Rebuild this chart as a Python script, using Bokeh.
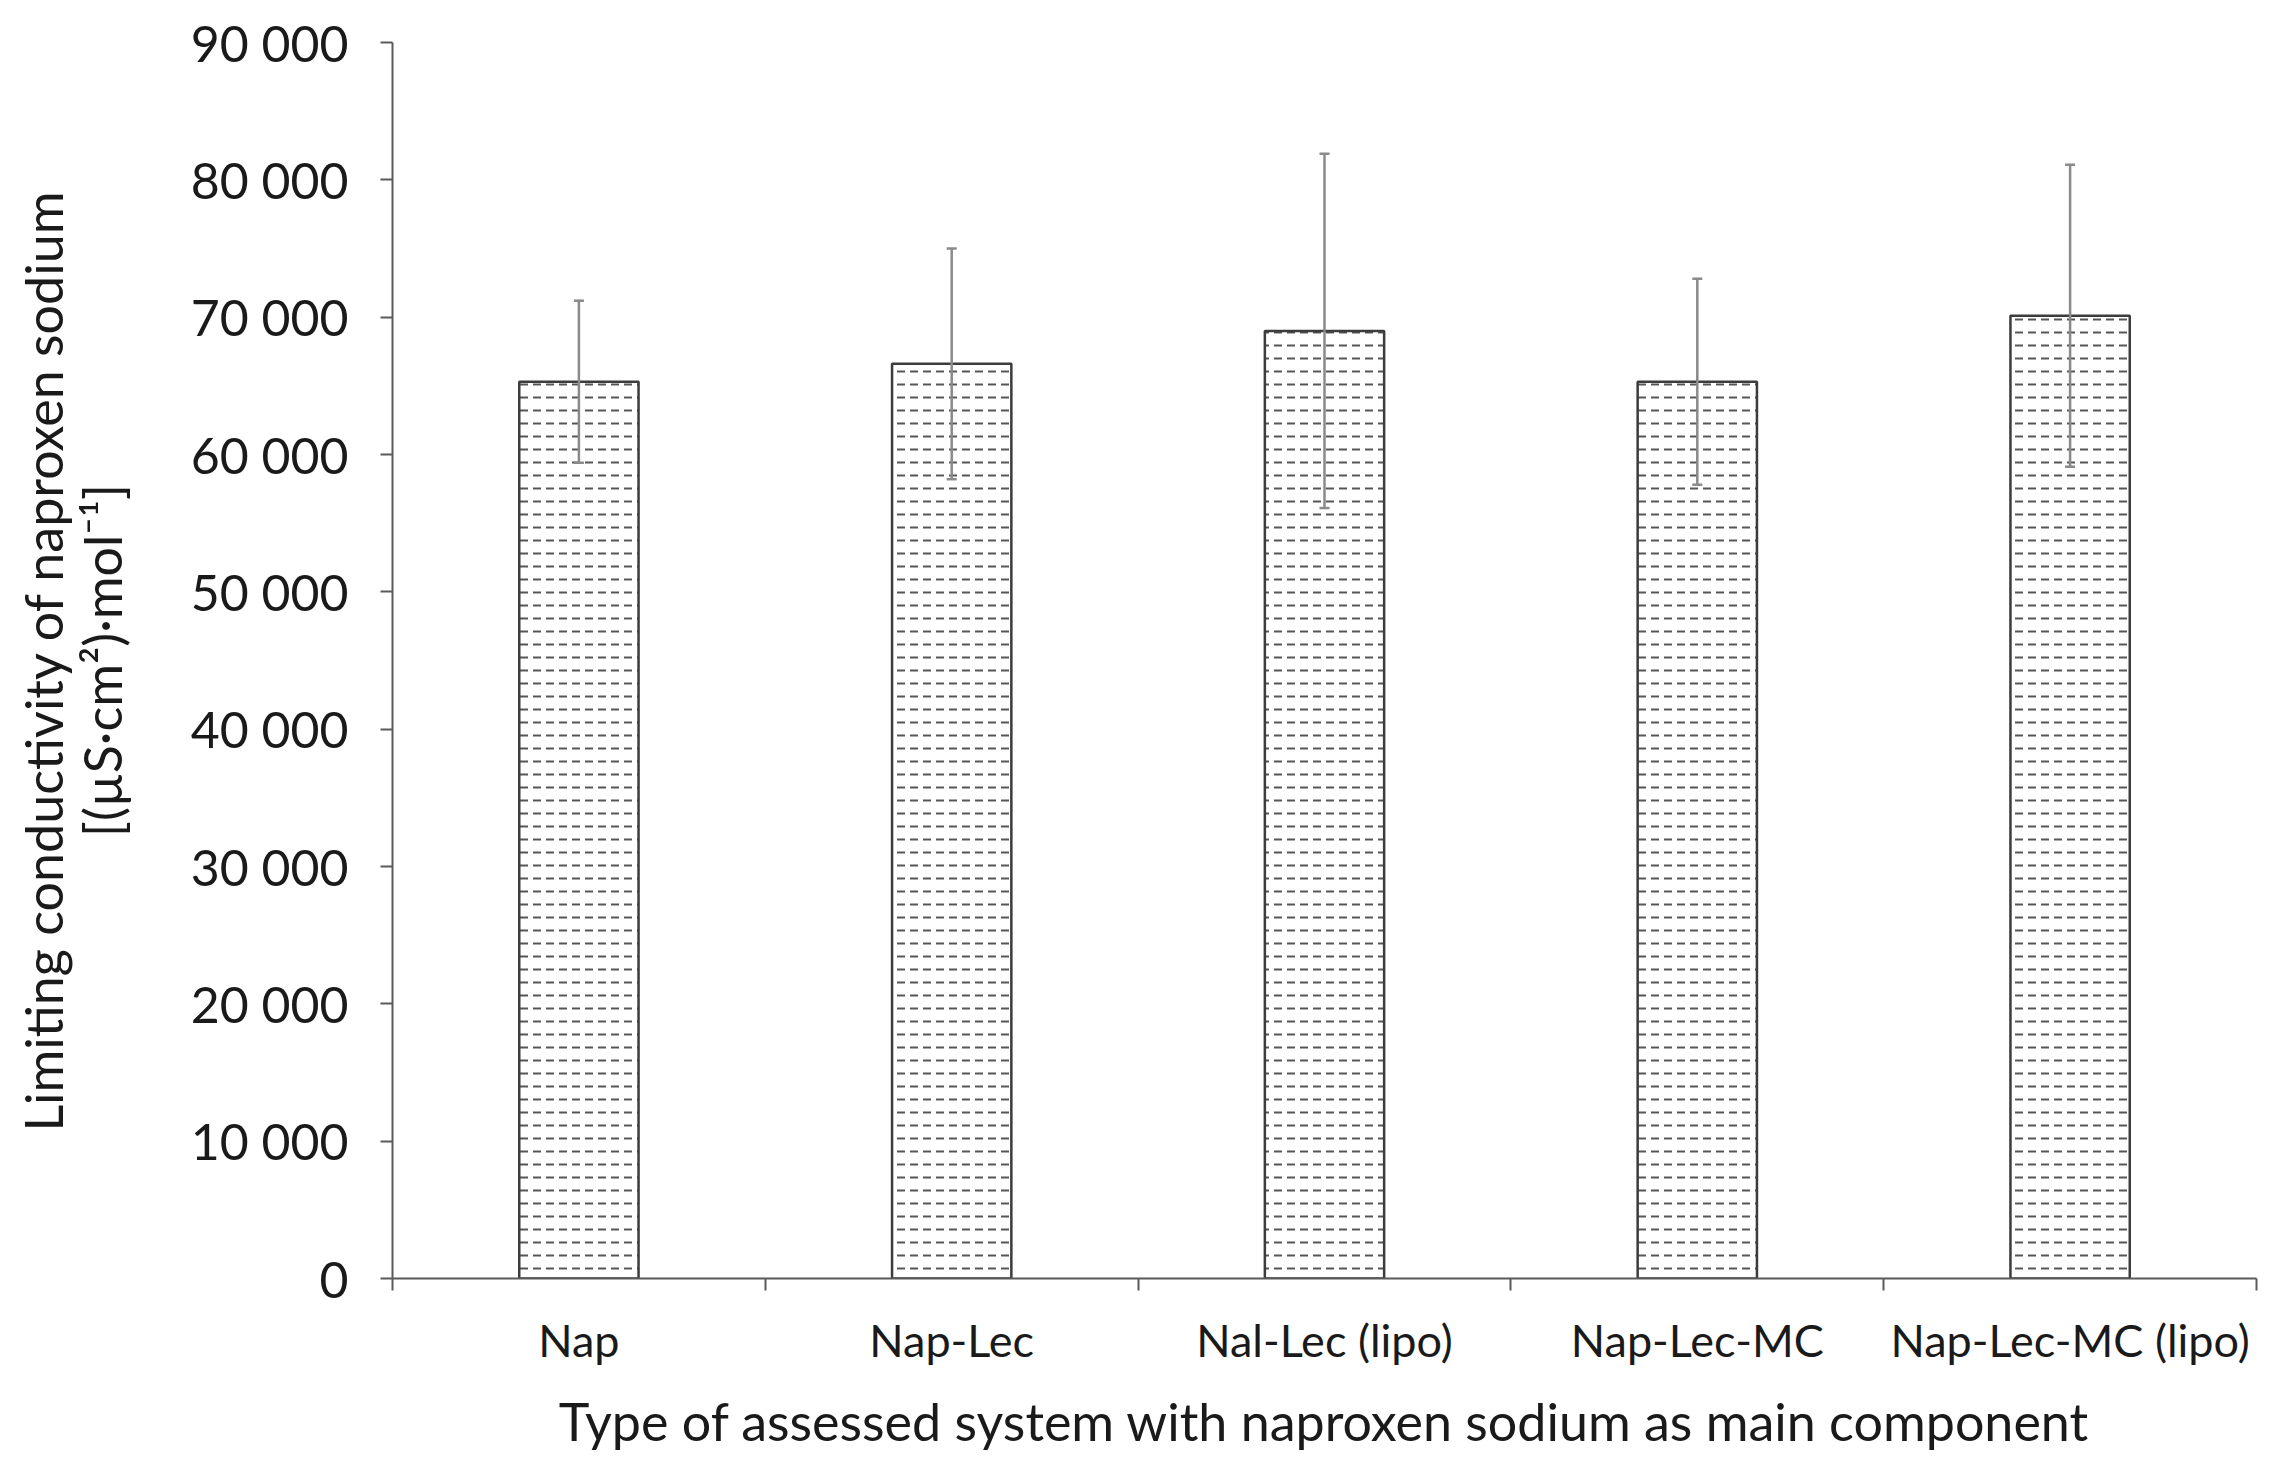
from bokeh.plotting import figure
from bokeh.models import ColumnDataSource, Whisker, TeeHead, FixedTicker, Range1d
from bokeh.embed import file_html
from bokeh.resources import INLINE

# ---- data ----
categories = ["Nap", "Nap-Lec", "Nal-Lec (lipo)", "Nap-Lec-MC", "Nap-Lec-MC (lipo)"]
means = [65300, 66600, 69000, 65300, 70100]
errors = [5900, 8400, 12900, 7500, 11000]
y_ticks = [0, 10000, 20000, 30000, 40000, 50000, 60000, 70000, 80000, 90000]
y_tick_labels = ["0", "10 000", "20 000", "30 000", "40 000", "50 000",
                 "60 000", "70 000", "80 000", "90 000"]
x_title = "Type of assessed system with naproxen sodium as main component"
y_title = "Limiting conductivity of naproxen sodium\n[(µS·cm²)·mol⁻¹]"

n = len(categories)
centers = [i + 0.5 for i in range(n)]
bounds = list(range(n + 1))
src = ColumnDataSource(dict(
    x=centers, top=means,
    upper=[m + e for m, e in zip(means, errors)],
    lower=[m - e for m, e in zip(means, errors)],
))

FONT = "Lato"
AX = "#5a5a5a"

p = figure(width=2262, height=1465,
           x_range=Range1d(0, n), y_range=Range1d(0, y_ticks[-1]),
           output_backend="svg", toolbar_location=None,
           min_border_left=392, min_border_right=6,
           min_border_top=42, min_border_bottom=187)
p.outline_line_color = None
p.xgrid.visible = False
p.ygrid.visible = False
p.background_fill_color = "white"
p.border_fill_color = "white"

p.vbar(x="x", top="top", width=0.32, source=src,
       fill_color="white", line_color="#3c3c3c", line_width=2.5,
       hatch_pattern="horizontal_dash", hatch_scale=13,
       hatch_color="#555555", hatch_weight=2)

wh = Whisker(base="x", upper="upper", lower="lower", source=src,
             line_color="#8a8a8a", line_width=2.5,
             upper_head=TeeHead(size=10, line_color="#8a8a8a", line_width=2.5),
             lower_head=TeeHead(size=10, line_color="#8a8a8a", line_width=2.5))
wh.level = "overlay"
p.add_layout(wh)

# y axis
ya = p.yaxis[0]
ya.ticker = FixedTicker(ticks=y_ticks)
ya.major_label_overrides = {t: l for t, l in zip(y_ticks, y_tick_labels)}
ya.minor_tick_line_color = None
ya.major_tick_out = 12
ya.major_tick_in = 0
ya.major_tick_line_color = AX
ya.major_tick_line_width = 2
ya.axis_line_color = AX
ya.axis_line_width = 2
ya.major_label_text_font = FONT
ya.major_label_text_font_size = "50px"
ya.major_label_text_color = "#1a1a1a"
ya.major_label_standoff = 32
ya.axis_label = y_title
ya.axis_label_text_font = FONT
ya.axis_label_text_font_size = "52px"
ya.axis_label_text_font_style = "normal"
ya.axis_label_text_color = "#1a1a1a"
ya.axis_label_text_line_height = 0.95
ya.axis_label_standoff = 55

# x axis: labels at centers, ticks at category boundaries
xa = p.xaxis[0]
xa.ticker = FixedTicker(ticks=centers, minor_ticks=bounds)
xa.major_label_overrides = {c: l for c, l in zip(centers, categories)}
xa.major_tick_line_color = None
xa.major_tick_out = 0
xa.major_tick_in = 0
xa.minor_tick_line_color = AX
xa.minor_tick_line_width = 2
xa.minor_tick_out = 12
xa.minor_tick_in = 0
xa.axis_line_color = AX
xa.axis_line_width = 2
xa.major_label_text_font = FONT
xa.major_label_text_font_size = "45px"
xa.major_label_text_color = "#1a1a1a"
xa.major_label_standoff = 22
xa.axis_label = x_title
xa.axis_label_text_font = FONT
xa.axis_label_text_font_size = "52px"
xa.axis_label_text_font_style = "normal"
xa.axis_label_text_color = "#1a1a1a"
xa.axis_label_standoff = 20

open("out.html", "w").write(file_html(p, INLINE))
